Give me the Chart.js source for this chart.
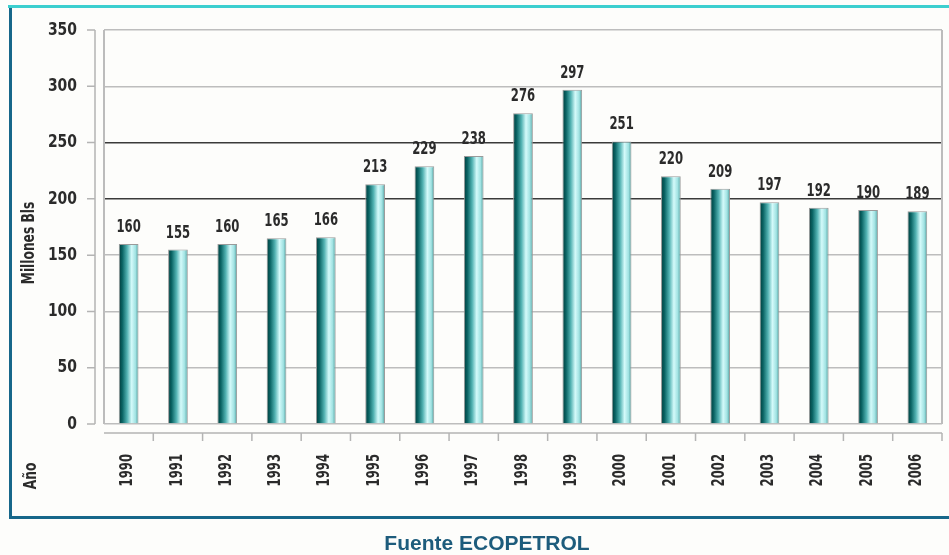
<!DOCTYPE html>
<html>
<head>
<meta charset="utf-8">
<script src="https://cdn.jsdelivr.net/npm/chart.js@4.4.0/dist/chart.umd.min.js"></script>
<style>
  html, body { margin:0; padding:0; background:#fdfdfb; width:949px; height:555px; overflow:hidden; }
  #topbar { position:absolute; left:8px; top:5px; right:0; height:3px; background:#3ccfcf; }
  #leftbar { position:absolute; left:9px; top:8px; width:3px; height:511px; background:#17678a; }
  #botbar { position:absolute; left:9px; top:516px; right:0; height:3px; background:#17678a; }
  #chart { position:absolute; left:0; top:0; }
  .rot { position:absolute; transform:translate(-50%,-50%) rotate(-90deg) scaleX(0.8); white-space:nowrap;
         font-family:'DejaVu Sans Condensed','DejaVu Sans',sans-serif; font-weight:bold; color:#2b2b2b; }
  #ytitle { left:28px; top:243px; font-size:17px; }
  #ano { left:30px; top:476px; font-size:17px; }
  #src { position:absolute; left:0; width:974px; top:531px; text-align:center;
         font-family:'Liberation Sans','Arial',sans-serif; font-weight:bold; font-size:21px; color:#1d5c7c; }
</style>
</head>
<body>
<div id="topbar"></div>
<div id="leftbar"></div>
<div id="botbar"></div>
<canvas id="chart" width="949" height="555"></canvas>
<div id="ytitle" class="rot">Millones Bls</div>
<div id="ano" class="rot">Año</div>
<div id="src">Fuente ECOPETROL</div>
<script>
const years = ['1990','1991','1992','1993','1994','1995','1996','1997','1998','1999','2000','2001','2002','2003','2004','2005','2006'];
const production = [160,155,160,165,166,213,229,238,276,297,251,220,209,197,192,190,189];
const yMin = 0;
const yMax = 350;
const yStep = 50;
const darkGridValues = [200, 250];

const FONT = "bold 18px 'DejaVu Sans Condensed','DejaVu Sans',sans-serif";
const TEXT_COLOR = '#2b2b2b';

function barGradient(ctx) {
  const chart = ctx.chart;
  if (!chart.chartArea) return '#2a8c8c';
  const xs = chart.scales.x;
  const cx = xs.getPixelForValue(ctx.dataIndex);
  const w = xs.width / years.length * 0.4;
  const g = chart.ctx.createLinearGradient(cx - w / 2, 0, cx + w / 2, 0);
  g.addColorStop(0, '#003a3a');
  g.addColorStop(0.18, '#0a6464');
  g.addColorStop(0.42, '#52b2b2');
  g.addColorStop(0.65, '#d4fafa');
  g.addColorStop(0.85, '#a0e2e2');
  g.addColorStop(1, '#469898');
  return g;
}

function narrowText(ctx, text, x, y, sx, rot, align, baseline) {
  ctx.save();
  ctx.translate(x, y);
  if (rot) ctx.rotate(rot);
  ctx.scale(sx, 1);
  ctx.textAlign = align;
  ctx.textBaseline = baseline;
  ctx.fillText(text, 0, 0);
  ctx.restore();
}

const decorations = {
  id: 'decorations',
  beforeDatasetsDraw(chart) {
    const { ctx, chartArea: a } = chart;
    ctx.save();
    ctx.strokeStyle = '#bcbcbc';
    ctx.lineWidth = 2;
    ctx.beginPath();
    ctx.moveTo(a.left, a.top); ctx.lineTo(a.left, a.bottom);
    ctx.moveTo(a.right, a.top); ctx.lineTo(a.right, a.bottom);
    ctx.stroke();
    ctx.restore();
  },
  afterDatasetsDraw(chart) {
    const ctx = chart.ctx;
    const meta = chart.getDatasetMeta(0);
    ctx.save();
    ctx.font = FONT;
    ctx.fillStyle = TEXT_COLOR;
    meta.data.forEach((el, i) => {
      narrowText(ctx, String(production[i]), el.x, el.y - 12, 0.72, 0, 'center', 'alphabetic');
    });
    ctx.restore();
  },
  afterDraw(chart) {
    const { ctx, chartArea: a, scales } = chart;
    ctx.save();
    ctx.strokeStyle = '#b4b4b4';
    ctx.lineWidth = 1.5;
    // offset y axis
    const ax = a.left - 9;
    ctx.beginPath();
    ctx.moveTo(ax, scales.y.getPixelForValue(yMax));
    ctx.lineTo(ax, scales.y.getPixelForValue(yMin));
    scales.y.ticks.forEach(t => {
      const py = scales.y.getPixelForValue(t.value);
      ctx.moveTo(ax - 8, py); ctx.lineTo(ax, py);
    });
    ctx.stroke();
    // offset x axis
    const ay = a.bottom + 9;
    const half = scales.x.width / years.length / 2;
    ctx.beginPath();
    ctx.moveTo(a.left, ay); ctx.lineTo(a.right, ay);
    years.forEach((y, i) => {
      const px = scales.x.getPixelForValue(i) + half;
      ctx.moveTo(px, ay); ctx.lineTo(px, ay + 8);
    });
    ctx.stroke();

    // tick labels
    ctx.font = FONT;
    ctx.fillStyle = TEXT_COLOR;
    scales.y.ticks.forEach(t => {
      const py = scales.y.getPixelForValue(t.value);
      narrowText(ctx, String(t.value), a.left - 27, py, 0.86, 0, 'right', 'middle');
    });
    years.forEach((label, i) => {
      const px = scales.x.getPixelForValue(i) - 1;
      narrowText(ctx, label, px, a.bottom + 30, 0.72, -Math.PI / 2, 'right', 'middle');
    });
    ctx.restore();
  }
};

new Chart(document.getElementById('chart'), {
  type: 'bar',
  data: {
    labels: years,
    datasets: [{
      data: production,
      backgroundColor: barGradient,
      borderColor: '#9a9a9a',
      borderWidth: 1,
      categoryPercentage: 0.8,
      barPercentage: 0.5
    }]
  },
  options: {
    responsive: false,
    animation: false,
    devicePixelRatio: 1,
    layout: { padding: { left: 0, top: 30, right: 7, bottom: 0 } },
    plugins: { legend: { display: false }, tooltip: { enabled: false } },
    scales: {
      x: {
        grid: { display: false, drawTicks: false },
        border: { display: false },
        ticks: { display: false, autoSkip: false },
        afterFit(s) { s.height = 131; s.paddingLeft = 0; s.paddingRight = 0; }
      },
      y: {
        min: yMin, max: yMax,
        grid: {
          drawTicks: false,
          lineWidth: 1.5,
          color: c => darkGridValues.includes(c.tick && c.tick.value) ? '#3a3a3a' : '#bdbdbd'
        },
        border: { display: false },
        ticks: { display: false, stepSize: yStep },
        afterFit(s) { s.width = 104; s.paddingTop = 0; s.paddingBottom = 0; }
      }
    }
  },
  plugins: [decorations]
});
</script>
</body>
</html>
